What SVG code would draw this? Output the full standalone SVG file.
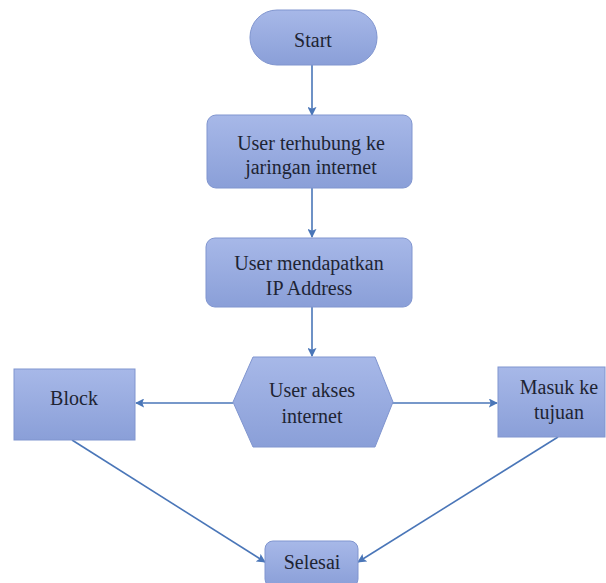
<svg xmlns="http://www.w3.org/2000/svg" width="606" height="583" viewBox="0 0 606 583">
<defs>
<linearGradient id="g" x1="0" y1="0" x2="0" y2="1">
<stop offset="0" stop-color="#a7b8e8"/>
<stop offset="1" stop-color="#8a9fd8"/>
</linearGradient>
<marker id="arr" viewBox="0 0 10 10" refX="9" refY="5" markerWidth="9" markerHeight="9" markerUnits="userSpaceOnUse" orient="auto">
<path d="M0,0 L10,5 L0,10 L2,5 Z" fill="#4a76b8"/>
</marker>
<style>
.n{fill:url(#g);stroke:#8095cf;stroke-width:1}
.t{font-family:"Liberation Serif","Times New Roman",serif;font-size:20px;fill:#1e2433;text-anchor:middle}
.c{stroke:#4a76b8;stroke-width:1.6;fill:none;marker-end:url(#arr)}
</style>
</defs>
<rect width="606" height="583" fill="#ffffff"/>
<g id="connectors">
<line class="c" x1="312" y1="65" x2="312" y2="115"/>
<line class="c" x1="312" y1="188" x2="312" y2="237"/>
<line class="c" x1="312" y1="307" x2="312" y2="356"/>
<line class="c" x1="233" y1="403" x2="136" y2="403"/>
<line class="c" x1="392" y1="403" x2="497" y2="403"/>
<line class="c" x1="72" y1="440" x2="265" y2="562"/>
<line class="c" x1="558" y1="437" x2="358" y2="562"/>
</g>
<g id="start">
<rect class="n" x="250" y="10" width="127" height="55" rx="27" ry="27"/>
<text class="t" x="313" y="47">Start</text>
</g>
<g id="terhubung">
<rect class="n" x="207" y="115" width="205" height="73" rx="9" ry="9"/>
<text class="t" x="311" y="150">User terhubung ke</text>
<text class="t" x="311" y="174">jaringan internet</text>
</g>
<g id="ip">
<rect class="n" x="206" y="238" width="206" height="69" rx="9" ry="9"/>
<text class="t" x="309" y="270">User mendapatkan</text>
<text class="t" x="309" y="295">IP Address</text>
</g>
<g id="akses">
<polygon class="n" points="253,357 375,357 393,402 375,447 253,447 233,402"/>
<text class="t" x="312" y="397">User akses</text>
<text class="t" x="312" y="423">internet</text>
</g>
<g id="block">
<rect class="n" x="14" y="369" width="121" height="71"/>
<text class="t" x="74" y="405">Block</text>
</g>
<g id="masuk">
<rect class="n" x="498" y="367" width="107" height="70"/>
<text class="t" x="559" y="394">Masuk ke</text>
<text class="t" x="559" y="419">tujuan</text>
</g>
<g id="selesai">
<rect class="n" x="265" y="541" width="93" height="46" rx="8" ry="8"/>
<text class="t" x="312" y="569">Selesai</text>
</g>
</svg>
